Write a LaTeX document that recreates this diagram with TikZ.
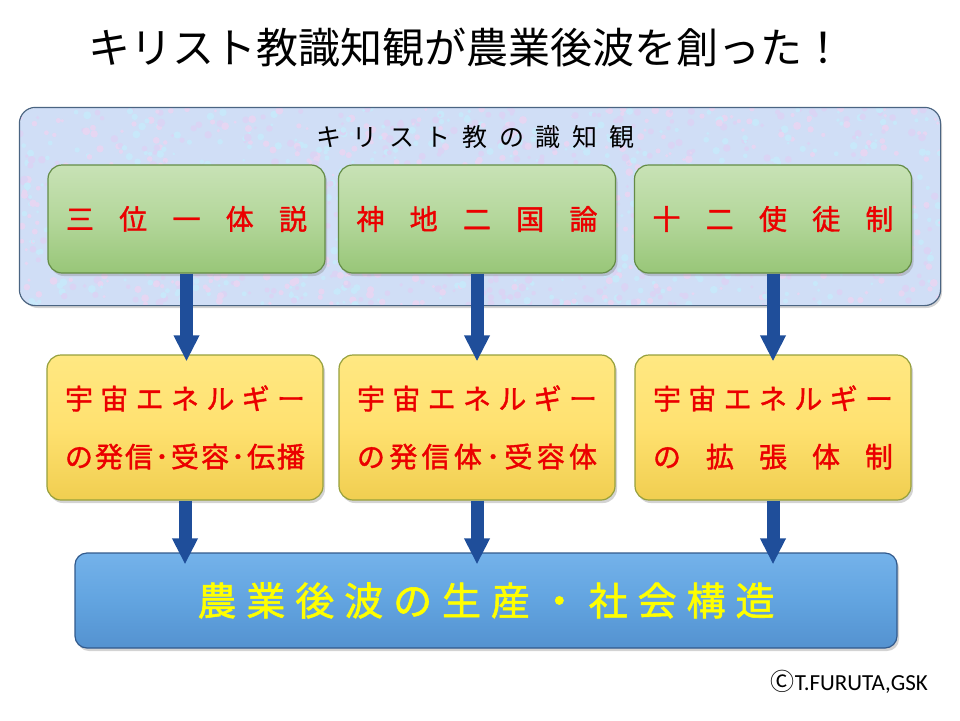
\documentclass[tikz,border=0pt]{standalone}
\usepackage{fontspec}
\setmainfont{Noto Sans CJK JP}
\newfontfamily\jpmed[FakeBold=1.4]{Noto Sans CJK JP}
\newfontfamily\cali{Carlito}
\usetikzlibrary{arrows.meta,shadows}
\definecolor{contfill}{RGB}{208,222,246}
\definecolor{dotA}{RGB}{230,214,242}
\definecolor{dotB}{RGB}{200,232,250}
\definecolor{dotC}{RGB}{218,212,244}
\definecolor{contborder}{RGB}{74,100,130}
\definecolor{gtop}{RGB}{200,226,182}
\definecolor{gmid}{RGB}{180,215,155}
\definecolor{gbot}{RGB}{152,198,120}
\definecolor{gborder}{RGB}{100,140,70}
\definecolor{ytop}{RGB}{255,232,130}
\definecolor{ymid}{RGB}{255,225,112}
\definecolor{ybot}{RGB}{240,206,80}
\definecolor{yborder}{RGB}{150,160,60}
\definecolor{btop}{RGB}{116,178,234}
\definecolor{bmid}{RGB}{98,164,224}
\definecolor{bbot}{RGB}{84,146,208}
\definecolor{bborder}{RGB}{50,90,140}
\definecolor{arrblue}{RGB}{31,78,154}
\definecolor{textred}{RGB}{235,0,0}
\definecolor{textyellow}{RGB}{255,255,0}
\begin{document}
\begin{tikzpicture}[x=1pt,y=-1pt,
  roundbox/.style={rounded corners=14pt, inner sep=0pt, line width=1.2pt,
    drop shadow={shadow xshift=2pt, shadow yshift=-3pt, opacity=0.35}},
  greenbox/.style={roundbox, draw=gborder, top color=gtop, bottom color=gbot, middle color=gmid,
    minimum width=277pt, minimum height=108pt,
    font={\fontsize{28}{28}\selectfont\jpmed}, text=textred},
  yellowbox/.style={roundbox, draw=yborder, top color=ytop, bottom color=ybot, middle color=ymid,
    minimum width=276pt, minimum height=145pt, align=center,
    font={\fontsize{28}{58}\selectfont\jpmed}, text=textred},
  bluebox/.style={roundbox, rounded corners=12pt, draw=bborder, top color=btop, bottom color=bbot, middle color=bmid,
    minimum width=822pt, minimum height=95pt,
    font={\fontsize{39}{39}\selectfont\jpmed}, text=textyellow},
  arr/.style={draw=arrblue, line width=13pt, -{Triangle[width=24pt,length=26pt]}}
]
\useasboundingbox (0,0) rectangle (960,720);

% title
\node (title) at (466,48) {\fontsize{42}{42}\selectfont キリスト教識知観が農業後波を創った！};

% container
\node[roundbox, rounded corners=16pt, fill=contfill, draw=none, minimum width=920pt, minimum height=197pt] (cont) at (480,206.5) {};
\begin{scope}
  \clip[rounded corners=16pt] (cont.south west) rectangle (cont.north east);
  \pgfmathsetseed{7}
  \foreach \i in {1,...,1600} {
    \pgfmathsetmacro\rx{20+920*rnd}
    \pgfmathsetmacro\ry{108+197*rnd}
    \pgfmathsetmacro\rr{1.5+2.5*rnd}
    \pgfmathtruncatemacro\rc{mod(\i,3)}
    \ifcase\rc
      \fill[dotA] (\rx,\ry) circle (\rr pt);
    \or
      \fill[dotB] (\rx,\ry) circle (\rr pt);
    \else
      \fill[dotC] (\rx,\ry) circle (\rr pt);
    \fi
  }
\end{scope}
\draw[contborder, line width=1.2pt, rounded corners=16pt] (cont.south west) rectangle (cont.north east);
\node (contlabel) at (475,137) {\fontsize{25}{25}\selectfont\hbox to 318pt{キ\hfill リ\hfill ス\hfill ト\hfill 教\hfill の\hfill 識\hfill 知\hfill 観}};

% green boxes
\node[greenbox] (g1) at (186.5,219) {\hbox to 241pt{三\hfill 位\hfill 一\hfill 体\hfill 説}};
\node[greenbox] (g2) at (477,219) {\hbox to 241pt{神\hfill 地\hfill 二\hfill 国\hfill 論}};
\node[greenbox] (g3) at (773,219) {\hbox to 241pt{十\hfill 二\hfill 使\hfill 徒\hfill 制}};

% yellow boxes
\node[yellowbox] (y1) at (185,427.5) {\hbox to 240pt{宇\hfill 宙\hfill エ\hfill ネ\hfill ル\hfill ギ\hfill ー}\\
  \hbox to 240pt{の\hfill 発\hfill 信\hfill ･\hfill 受\hfill 容\hfill ･\hfill 伝\hfill 播}};
\node[yellowbox] (y2) at (477,427.5) {\hbox to 240pt{宇\hfill 宙\hfill エ\hfill ネ\hfill ル\hfill ギ\hfill ー}\\
  \hbox to 240pt{の\hfill 発\hfill 信\hfill 体\hfill ･\hfill 受\hfill 容\hfill 体}};
\node[yellowbox] (y3) at (773,427.5) {\hbox to 240pt{宇\hfill 宙\hfill エ\hfill ネ\hfill ル\hfill ギ\hfill ー}\\
  \hbox to 240pt{の\hfill 拡\hfill 張\hfill 体\hfill 制}};

% blue box
\node[bluebox] (bb) at (486,600.5) {\hbox to 577pt{農\hfill 業\hfill 後\hfill 波\hfill の\hfill 生\hfill 産\hfill ・\hfill 社\hfill 会\hfill 構\hfill 造}};

% arrows
\draw[arr] (g1.south) -- ([yshift=-7pt]g1.south |- y1.north);
\draw[arr] (g2.south) -- ([yshift=-7pt]g2.south |- y2.north);
\draw[arr] (g3.south) -- ([yshift=-7pt]g3.south |- y3.north);
\draw[arr] (y1.south) -- ([yshift=-12pt]y1.south |- bb.north);
\draw[arr] (y2.south) -- ([yshift=-12pt]y2.south |- bb.north);
\draw[arr] (y3.south) -- ([yshift=-12pt]y3.south |- bb.north);

% copyright
\node[anchor=east, inner sep=0pt] (copy) at (928,682) {{\fontsize{24}{24}\selectfont Ⓒ}{\cali\fontsize{23}{23}\selectfont T.FURUTA,GSK}};
\end{tikzpicture}
\end{document}
